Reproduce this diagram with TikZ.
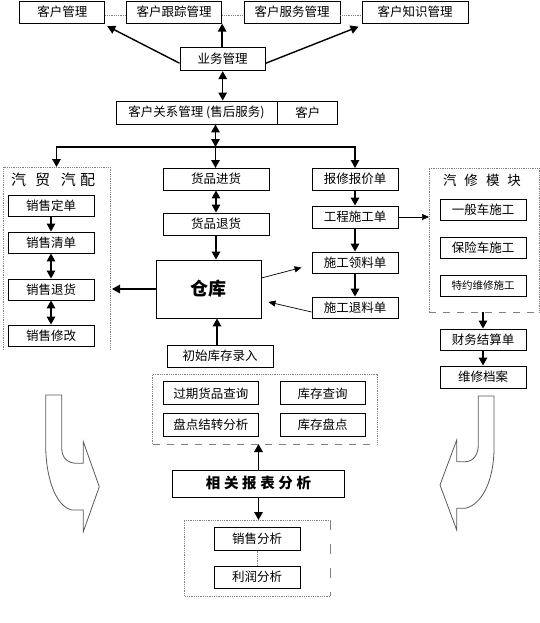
\documentclass[tikz,border=0pt]{standalone}
\usepackage{fontspec}
\setmainfont{Noto Sans CJK SC}
\usetikzlibrary{arrows.meta}

\begin{document}
\begin{tikzpicture}[
		x=1pt, y=-1pt,
		% Define styles for nodes
		every node/.style={font=\fontsize{12.5}{14}\selectfont},
		box/.style={draw, rectangle, line width=0.9pt, align=center, minimum height=22pt, inner sep=1pt},
		grp/.style={draw=gray, densely dotted, line width=0.8pt},
		gapline/.style={draw=gray, dash pattern=on 7pt off 7pt, line width=0.8pt},
		flow/.style={draw, line width=1.4pt, -{Triangle[length=8pt,width=8.5pt]}},
		both/.style={draw, line width=1.4pt, {Triangle[length=8pt,width=8.5pt]}-{Triangle[length=8pt,width=8.5pt]}},
		link/.style={draw, line width=0.7pt, -{Triangle[length=7pt,width=6pt]}},
		turn/.style={draw=gray!70!black, line width=0.8pt}
	]
	\useasboundingbox (0,0) rectangle (540,623);

	% Customer row
	\node[box, minimum width=85pt] (khgl) at (62.3,12.2) {客户管理};
	\node[box, minimum width=95pt] (khgz) at (174.2,12.2) {客户跟踪管理};
	\node[box, minimum width=96pt] (khfw) at (292,12.2) {客户服务管理};
	\node[box, minimum width=106pt] (khzs) at (415,12.2) {客户知识管理};
	\draw[grp] ([yshift=-3pt]khgl.east) -- ([yshift=-3pt]khgz.west);
	\draw[grp] ([yshift=-3pt]khgz.east) -- ([yshift=-3pt]khfw.west);
	\draw[grp] ([yshift=-3pt]khfw.east) -- ([yshift=-3pt]khzs.west);

	% Business management
	\node[box, minimum width=85.5pt, minimum height=23pt] (yw) at (222.7,59.2) {业务管理};
	\draw[flow] ([yshift=-4pt]yw.west) -- ([xshift=2pt,yshift=-2.5pt]khgl.south east);
	\draw[flow] (yw.north -| khgz.south east) -- (khgz.south east);
	\draw[flow] ([yshift=-4pt]yw.east) -- ([xshift=-3pt,yshift=-3pt]khzs.south west);

	% Customer relations
	\node[box, minimum width=161pt, minimum height=23pt] (gx) at (196.5,112.5) {客户关系管理 (售后服务)};
	\node[box, minimum width=60pt, minimum height=23pt, anchor=west] (kh) at (gx.east) {客户};
	\draw[both] (yw.south) -- (yw.south |- gx.north);

	% Branches
	\coordinate (br) at (215.5,147);
	\coordinate (qmNW) at (3,167);
	\coordinate (qmSE) at (110,350);
	\coordinate (qmN) at (56.5,167);
	\draw[both] (br |- gx.south) -- (br);
	\draw[flow] (br) -| (qmN);
	\draw[flow] (br) -- (br |- 0,168);
	\draw[flow] (br) -| (355,168);

	% Sales group
	\draw[grp] (qmNW |- qmSE) -- (qmNW) -| (qmSE);
	\node[font=\fontsize{15}{16}\selectfont] (qmt) at (53,180) {汽\hspace{9pt}贸\hspace{11pt}汽\hspace{4pt}配};
	\node[box, minimum width=86pt, minimum height=21pt] (xsdd) at (51,205.5) {销售定单};
	\node[box, minimum width=86pt, minimum height=21pt] (xsqd) at (51,242.5) {销售清单};
	\node[box, minimum width=86pt, minimum height=21pt] (xsth) at (51,289.5) {销售退货};
	\node[box, minimum width=86pt, minimum height=21pt] (xsxg) at (51,335.5) {销售修改};
	\draw[flow] (xsdd) -- (xsqd);
	\draw[both] (xsqd) -- (xsth);
	\draw[both] (xsth) -- (xsxg);

	% Goods and warehouse
	\node[box, minimum width=106pt] (hpjh) at (216,179) {货品进货};
	\node[box, minimum width=106pt] (hpth) at (216,224) {货品退货};
	\node[box, minimum width=105pt, minimum height=58pt, font=\fontsize{18}{20}\selectfont\bfseries] (ck) at (208.5,289) {仓库};
	\node[box, minimum width=106pt] (cs) at (220,356) {初始库存录入};
	\draw[both] (hpjh) -- (hpth);
	\draw[flow] (hpth.south) -- (hpth.south |- ck.north);
	\draw[flow] (cs.north -| 217,0) -- (217,0 |- ck.south);
	\draw[flow] (ck.west) -- ([xshift=2pt]ck.west -| qmSE);

	% Repair orders
	\node[box, minimum width=86pt] (bx) at (355,179) {报修报价单};
	\node[box, minimum width=86pt] (gc) at (355,217) {工程施工单};
	\node[box, minimum width=86pt, minimum height=21pt] (ll) at (355,262.5) {施工领料单};
	\node[box, minimum width=86pt, minimum height=21pt] (tl) at (355,307.5) {施工退料单};
	\draw[flow] (bx) -- (gc);
	\draw[flow] (gc) -- (ll);
	\draw[flow] (ll) -- (tl);
	\draw[link] ([yshift=11pt]ck.east) -- ([xshift=-10pt,yshift=-5pt]ll.west);
	\draw[link] ([yshift=-4.5pt]tl.west) -- ([xshift=7pt,yshift=-13pt]ck.east);

	% Repair group
	\coordinate (xmNW) at (429,168);
	\coordinate (xmSE) at (539,312);
	\draw[grp] (xmNW |- xmSE) -- (xmNW) -| (xmSE);
	\draw[gapline] (xmNW |- xmSE) -- (xmSE);
	\node[font=\fontsize{13.5}{15}\selectfont] (xmt) at (482,180) {汽\hspace{8pt}修\hspace{8pt}模\hspace{8pt}块};
	\node[box, minimum width=86pt, minimum height=21pt] (yb) at (483,209.5) {一般车施工};
	\node[box, minimum width=86pt, minimum height=21pt] (bc) at (483,247.5) {保险车施工};
	\node[box, minimum width=86pt, minimum height=21pt, font=\fontsize{10.5}{12}\selectfont] (ty) at (483,285.5) {特约维修施工};
	\node[box, minimum width=86pt, minimum height=21pt] (cw) at (483,339.5) {财务结算单};
	\node[box, minimum width=86pt] (wx) at (483,377) {维修档案};
	\draw[link] (gc.east) -- (gc.east -| xmNW);
	\draw[flow] (xmSE -| cw) -- (cw);
	\draw[flow] (cw) -- (wx);

	% Stock queries
	\coordinate (cxNW) at (152.8,374);
	\coordinate (cxSE) at (376.9,444);
	\draw[grp] (cxNW |- cxSE) -- (cxNW) -| (cxSE);
	\draw[gapline] (cxNW |- cxSE) -- (cxSE);
	\node[box, minimum width=95.6pt, minimum height=23pt] (gq) at (210.8,393.3) {过期货品查询};
	\node[box, minimum width=85.5pt, minimum height=23pt] (kc) at (322.7,393.3) {库存查询};
	\node[box, minimum width=95.6pt, minimum height=23pt] (pd) at (210.8,424.5) {盘点结转分析};
	\node[box, minimum width=85.5pt, minimum height=23pt] (kp) at (322.7,424.5) {库存盘点};

	% Reports
	\node[box, minimum width=172pt, minimum height=27pt, font=\fontsize{14.5}{16}\selectfont\bfseries\addfontfeatures{LetterSpace=25}] (bb) at (258.5,483.5) {相关报表分析};
	\coordinate (fxNW) at (184.3,520);
	\coordinate (fxSE) at (330.7,596);
	\draw[flow] (bb.north) -- (bb.north |- cxSE);
	\draw[flow] (bb.south) -- (bb.south |- fxNW);
	\draw[grp] (fxNW -| fxSE) -- (fxNW) |- (fxSE);
	\draw[gapline, dash pattern=on 10pt off 14pt] (fxNW -| fxSE) -- (fxSE);
	\node[box, minimum width=85.7pt, minimum height=22.3pt] (xf) at (257.2,539) {销售分析};
	\node[box, minimum width=85.7pt, minimum height=22.3pt] (lr) at (257.2,577.2) {利润分析};
	\draw[grp] (xf) -- (lr);

	% Turning arrows
	\draw[turn] (45.7,395) -- (61.7,395) -- (61.7,448.3)
		.. controls (61.7,458) and (68,463.3) .. (76.7,463.3) -- (83.3,463.3)
		-- (83.3,441.7) -- (99.3,486.7) -- (83.3,531.7) -- (83.3,510) -- (71.7,510)
		.. controls (56,506) and (46.5,480) .. (45.7,448) -- cycle;
	\draw[turn] (478.3,396) -- (494,396) -- (494,448.3)
		.. controls (494,480) and (482,505) .. (465,508.3) -- (456.7,508.3)
		-- (456.7,530) -- (440,485) -- (456.7,440) -- (456.7,461.7) -- (465,461.7)
		.. controls (473,461.7) and (478.3,455) .. (478.3,445) -- cycle;
\end{tikzpicture}
\end{document}
